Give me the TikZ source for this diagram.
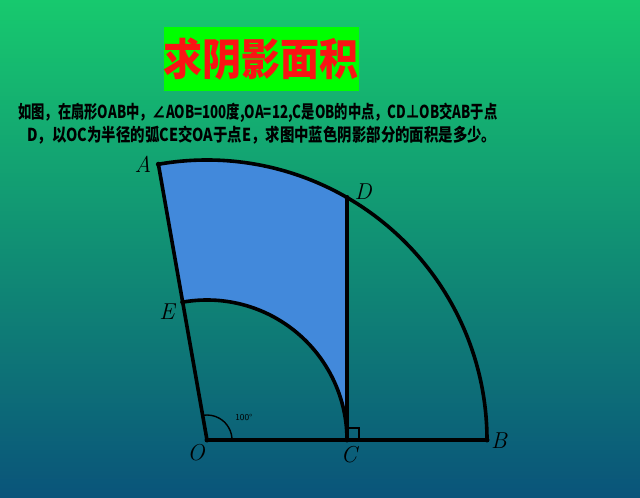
\documentclass[tikz,border=0pt]{standalone}
\usepackage{fontspec}
\newfontfamily\cjk{Noto Sans CJK SC}
\begin{document}
\begin{tikzpicture}[x=1pt,y=1pt,
  lbl/.style={font=\fontsize{23}{23}\selectfont\itshape, inner sep=0pt},
  thick line/.style={line width=3.6pt, line join=round, line cap=round},
  thin line/.style={line width=1.4pt},
  txt/.style={anchor=west, inner sep=0pt, font=\cjk\bfseries\fontsize{15.5}{16}\selectfont},
  dot/.style={circle, fill=black, inner sep=0pt, minimum size=5pt}]
\definecolor{bgtop}{RGB}{23,201,110}
\definecolor{bgbot}{RGB}{10,84,122}
\definecolor{titlegreen}{RGB}{0,255,0}
\definecolor{titlered}{RGB}{250,20,20}
\definecolor{sectorblue}{RGB}{66,137,219}
\useasboundingbox (0,0) rectangle (640,498);
\shade[top color=bgtop, bottom color=bgbot] (0,0) rectangle (640,498);
% title
\node[fill=titlegreen, text=titlered, minimum width=192pt, minimum height=64pt, inner sep=0pt,
  font=\cjk\bfseries\fontsize{39}{39}\selectfont] (title) at (261,439) {\scalebox{1}[1.12]{求阴影面积}};
% problem text
\node[txt] (line1) at (18,385)
  {\scalebox{0.858}[1.15]{如图，在扇形OAB中，∠AOB=100度,OA=12,C是OB的中点，CD⊥OB交AB于点}};
\node[txt] (line2) at (27,363)
  {\scalebox{0.93}[1.15]{D，以OC为半径的弧CE交OA于点E，求图中蓝色阴影部分的面积是多少。}};
% geometry
\coordinate (O) at (207,58);
\coordinate (A) at ([shift={(100:280)}]O);
\coordinate (D) at ([shift={(60:280)}]O);
\coordinate (B) at ([shift={(0:280)}]O);
\coordinate (C) at ([shift={(0:140)}]O);
\coordinate (E) at ([shift={(100:140)}]O);
\fill[sectorblue] (A) arc[start angle=100, end angle=60, radius=280] -- (C)
  arc[start angle=0, end angle=100, radius=140] -- cycle;
\draw[thick line] (O) -- (A) arc[start angle=100, end angle=0, radius=280] -- (O);
\draw[thick line] (D) -- (C);
\draw[thick line] (C) arc[start angle=0, end angle=100, radius=140];
\draw[thin line] ([shift={(0:25)}]O) arc[start angle=0, end angle=100, radius=25];
\draw[thin line] ([shift={(0,12)}]C) -- ++(12,0) -- ++(0,-12);
\node[inner sep=0pt, font=\sffamily\fontsize{9}{9}\selectfont] (ang) at (244,81) {100\textdegree};
\foreach \p in {O,A,D,E,C,B} \node[dot] at (\p) {};
\node[lbl] (lA) at (143,334) {A};
\node[lbl] (lD) at (363,306) {D};
\node[lbl] (lE) at (167,186) {E};
\node[lbl] (lO) at (196,45) {O};
\node[lbl] (lC) at (349,43) {C};
\node[lbl] (lB) at (499,57) {B};
\end{tikzpicture}
\end{document}
